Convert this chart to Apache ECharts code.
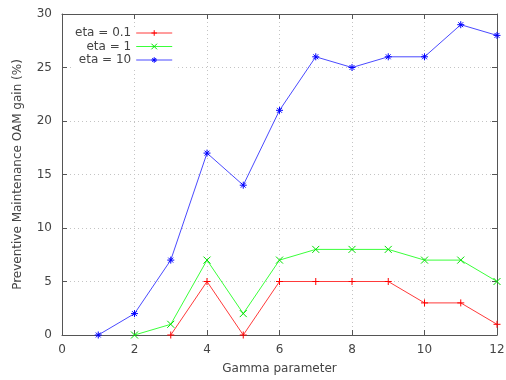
<!DOCTYPE html>
<html>
<head>
<meta charset="utf-8">
<script src="https://cdn.jsdelivr.net/npm/echarts@6/dist/echarts.min.js"></script>
<style>
html, body { margin: 0; padding: 0; background: #fff; }
#chart { width: 506px; height: 380px; }
</style>
</head>
<body>
<div id="chart"></div>
<script>
// Gain values per gamma, one list per eta setting
const gammaLow = [3, 4, 5, 6, 7, 8, 9, 10, 11, 12];
const gainEta01 = [0, 5, 0, 5, 5, 5, 5, 3, 3, 1];
const gammaMid = [2, 3, 4, 5, 6, 7, 8, 9, 10, 11, 12];
const gainEta1 = [0, 1, 7, 2, 7, 8, 8, 8, 7, 7, 5];
const gammaHigh = [1, 2, 3, 4, 5, 6, 7, 8, 9, 10, 11, 12];
const gainEta10 = [0, 2, 7, 17, 14, 21, 26, 25, 26, 26, 29, 28];
const seriesNames = ['eta = 0.1', 'eta = 1', 'eta = 10'];

const FONT = 'DejaVu Sans';
const TXT = '#444';
const plus = 'path://M0,5L10,5M5,0L5,10';
const cross = 'path://M1,1L9,9M9,1L1,9';
const star = 'path://M0,5L10,5M5,0L5,10M1.5,1.5L8.5,8.5M8.5,1.5L1.5,8.5';

function pairs(xs, ys) { return xs.map((x, i) => [x, ys[i]]); }

function mk(name, xs, ys, lineColor, markColor, symbol) {
  return {
    name: name, type: 'line', data: pairs(xs, ys),
    symbol: symbol, symbolSize: 7, showSymbol: true,
    lineStyle: { color: lineColor, width: 1 },
    itemStyle: { color: 'rgba(0,0,0,0)', borderColor: markColor, borderWidth: 1 },
    emphasis: { disabled: true }, animation: false, z: 3
  };
}

const axisCommon = {
  axisLine: { show: true, onZero: false, lineStyle: { color: '#555', width: 1 } },
  axisTick: { show: true, inside: true, length: 5, lineStyle: { color: '#555' } },
};
const gridLine = { show: true, lineStyle: { color: '#c4c4c4', type: [1, 3], width: 1 } };

const chart = echarts.init(document.getElementById('chart'), null, { renderer: 'canvas' });
chart.setOption({
  backgroundColor: '#fff',
  animation: false,
  grid: { left: 62, right: 9, top: 14, bottom: 45, containLabel: false, outerBoundsMode: 'none' },
  legend: {
    orient: 'vertical', left: 71, top: 27, itemGap: 1.5, itemWidth: 36, itemHeight: 7,
    align: 'right', backgroundColor: '#fff', padding: [0, 2, 2, 4],
    lineStyle: { width: 1 },
    itemStyle: { color: 'rgba(0,0,0,0)', borderWidth: 1 },
    textStyle: { fontFamily: FONT, fontSize: 12, color: TXT },
    data: seriesNames
  },
  xAxis: [
    Object.assign({
      type: 'value', min: 0, max: 12, interval: 2, position: 'bottom',
      name: 'Gamma parameter', nameLocation: 'middle', nameGap: 28,
      nameTextStyle: { fontFamily: FONT, fontSize: 12, color: TXT },
      axisLabel: { fontFamily: FONT, fontSize: 12, color: TXT, margin: 9 },
      splitLine: gridLine
    }, axisCommon),
    Object.assign({
      type: 'value', min: 0, max: 12, interval: 2, position: 'top',
      axisLabel: { show: false }, splitLine: { show: false }
    }, axisCommon)
  ],
  yAxis: [
    Object.assign({
      type: 'value', min: 0, max: 30, interval: 5, position: 'left',
      name: 'Preventive Maintenance OAM gain (%)', nameLocation: 'middle', nameGap: 38,
      nameTextStyle: { fontFamily: FONT, fontSize: 12, color: TXT },
      axisLabel: { fontFamily: FONT, fontSize: 12, color: TXT, margin: 10 },
      splitLine: gridLine
    }, axisCommon),
    Object.assign({
      type: 'value', min: 0, max: 30, interval: 5, position: 'right',
      axisLabel: { show: false }, splitLine: { show: false }
    }, axisCommon)
  ],
  series: [
    mk(seriesNames[0], gammaLow, gainEta01, '#ff3a3a', '#ff0000', plus),
    mk(seriesNames[1], gammaMid, gainEta1, '#3aff3a', '#00e000', cross),
    mk(seriesNames[2], gammaHigh, gainEta10, '#4a4aff', '#0000ff', star)
  ]
});
</script>
</body>
</html>
